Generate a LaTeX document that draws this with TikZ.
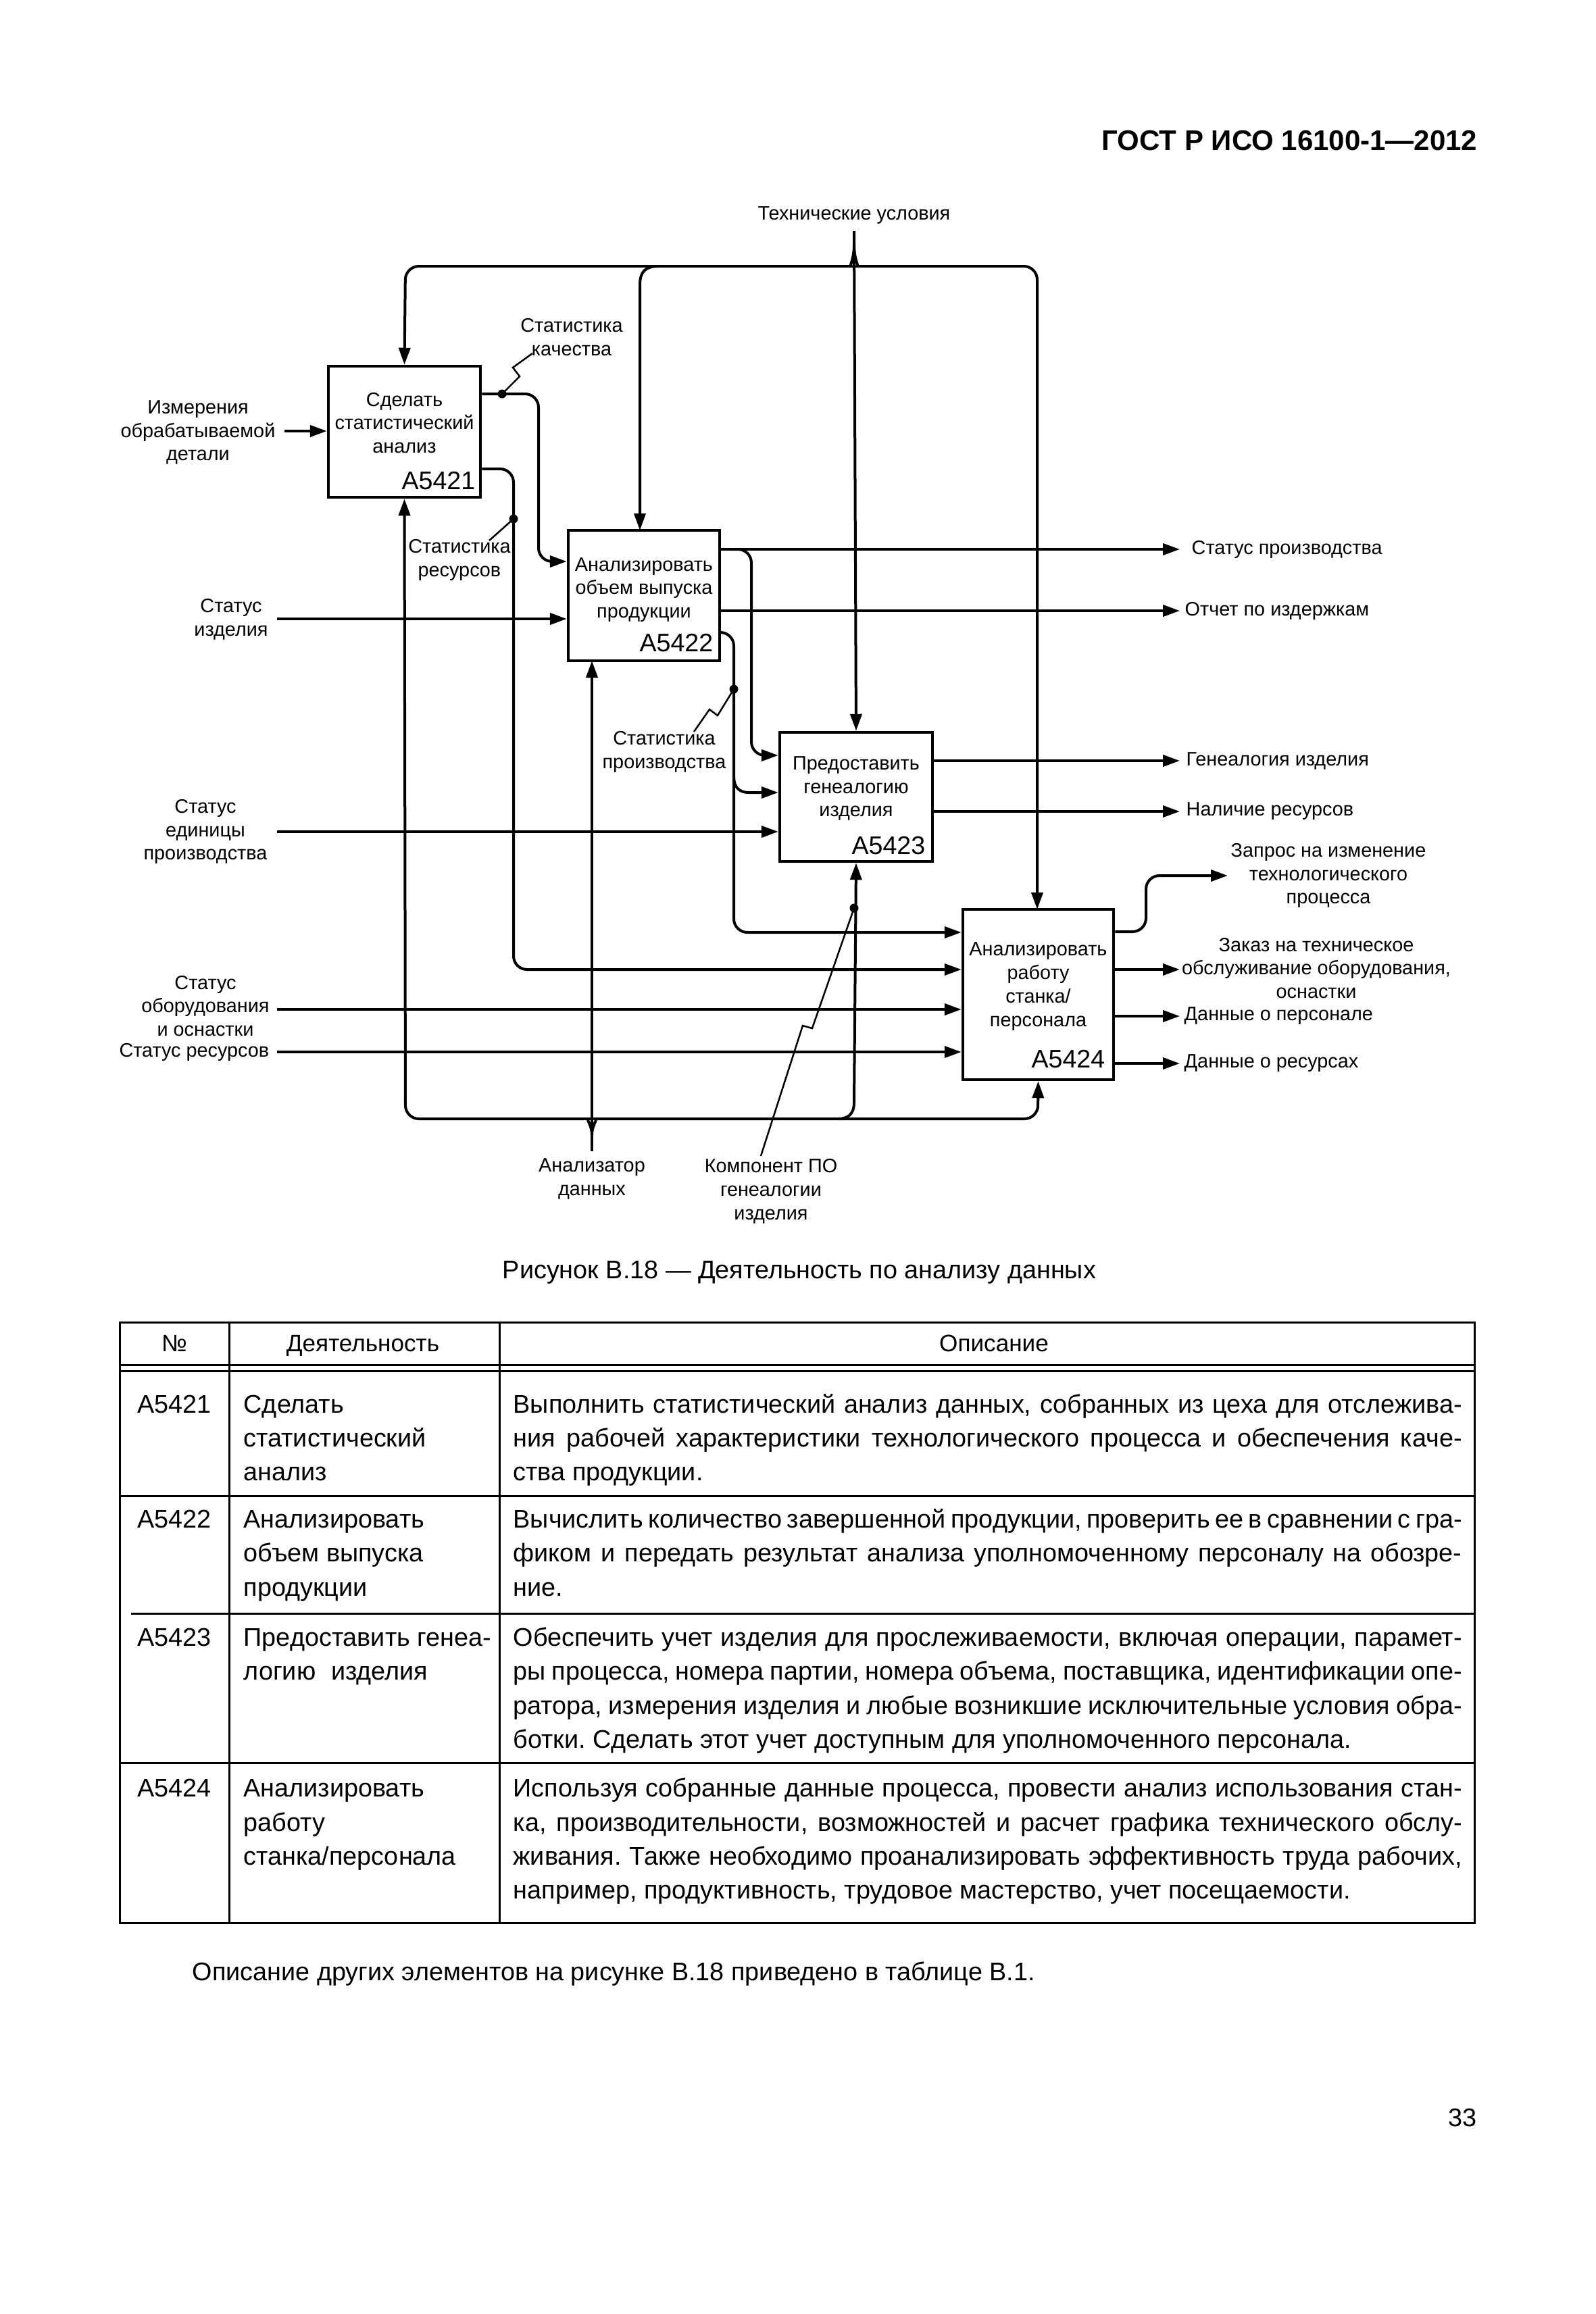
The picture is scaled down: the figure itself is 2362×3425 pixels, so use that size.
\documentclass[tikz,border=0pt]{standalone}
\usepackage{fontspec}
\setmainfont{Liberation Sans}
\usetikzlibrary{arrows.meta}
\frenchspacing
\newlength\descw
\setlength\descw{140.4mm}
\newcommand\jline[1]{\makebox[\descw][s]{#1}}
\begin{document}
\begin{tikzpicture}[x=0.1mm,y=-0.1mm,
  box/.style={draw, line width=0.45mm, inner sep=0},
  con/.style={line width=0.4mm},
  arr/.style={con, -{Triangle[length=2.5mm,width=1.7mm]}},
  sq/.style={line width=0.25mm},
  dotn/.style={circle, fill, inner sep=0, minimum size=1.3mm},
  lbl/.style={font=\fontsize{8.2}{9.9}\selectfont, align=center, inner sep=0},
  idf/.style={font=\fontsize{10.7}{12}\selectfont, inner sep=0},
  tbl/.style={line width=0.3mm},
  body/.style={font=\fontsize{10.75}{12.9}\selectfont, inner sep=0},
  thead/.style={font=\fontsize{10}{12}\selectfont, inner sep=0},
  rc/.style={rounded corners=2mm}
]
\fill[white] (0,0) rectangle (2362,3425);
\useasboundingbox (0,0) rectangle (2362,3425);

% header
\node[font=\fontsize{11.95}{14}\selectfont\bfseries, inner sep=0, anchor=base east] (hdr) at (2187,222) {ГОСТ Р ИСО 16100-1—2012};

% boxes
\node[box, minimum width=22.5mm, minimum height=19.4mm] (b1) at (598.5,639) {};
\node[box, minimum width=22.4mm, minimum height=19.3mm] (b2) at (953,881.5) {};
\node[box, minimum width=22.6mm, minimum height=19.1mm] (b3) at (1267,1179.5) {};
\node[box, minimum width=22.3mm, minimum height=25.2mm] (b4) at (1536.5,1472) {};

\node[lbl] (t1) at (598.5,626) {Сделать\\статистический\\анализ};
\node[lbl] (t2) at (953,873) {Анализировать\\объем выпуска\\продукции};
\node[lbl] (t3) at (1267,1167) {Предоставить\\генеалогию\\изделия};
\node[lbl] (t4) at (1536.5,1460) {Анализировать\\работу\\станка/\\персонала};

\node[idf, anchor=base east] (i1) at (704,724) {A5421};
\node[idf, anchor=base east] (i2) at (1056,964) {A5422};
\node[idf, anchor=base east] (i3) at (1370,1264) {A5423};
\node[idf, anchor=base east] (i4) at (1636,1580) {A5424};

% control: technical conditions
\node[lbl] (tc) at (1264,319) {Технические условия};
\coordinate (ctop) at (1264,342);
\draw[arr] (ctop) -- (b3.north);
\draw[arr, rc] (1264,362) .. controls (1264,386) and (1256,394) .. (1240,394) -- (600,394) -- (b1.north);
\draw[arr, rc] (1264,362) .. controls (1264,386) and (1272,394) .. (1288,394) -- (1535,394) -- (1535,1346);
\draw[arr] (975,394) .. controls (955,394) and (947,402) .. (947,422) -- (947,785);

% mechanism: data analyser
\node[lbl] (ad) at (876,1745) {Анализатор\\данных};
\coordinate (mbot) at (876,1704);
\draw[arr] (mbot) -- (876,978);
\draw[arr, rc] (876,1680) .. controls (876,1664) and (866,1656) .. (852,1656) -- (600,1656) -- (b1.south);
\draw[arr, rc] (876,1680) .. controls (876,1664) and (886,1656) .. (900,1656) -- (1536,1656) -- (b4.south);
\draw[arr] (1240,1656) .. controls (1256,1656) and (1264,1648) .. (1264,1632) -- (b3.south);

% mechanism: genealogy software
\node[dotn] (dk) at (1264,1344) {};
\node[lbl] (kp) at (1141,1763) {Компонент ПО\\генеалогии\\изделия};
\draw[sq] (dk.center) -- (1202,1522) -- (1188,1518) -- (1126,1711);

% inputs
\node[lbl] (in1) at (293,640) {Измерения\\обрабатываемой\\детали};
\draw[arr] (421,638) -- (b1.west |- 0,638);
\node[lbl] (in2) at (342,917) {Статус\\изделия};
\draw[arr] (410,916) -- (b2.west |- 0,916);
\node[lbl] (in3) at (304,1231) {Статус\\единицы\\производства};
\draw[arr] (410,1231) -- (b3.west |- 0,1231);
\node[lbl] (in4) at (304,1489) {Статус\\оборудования\\и оснастки};
\draw[arr] (410,1494) -- (b4.west |- 0,1494);
\node[lbl, anchor=east] (in5) at (399,1557) {Статус ресурсов};
\draw[arr] (410,1557) -- (b4.west |- 0,1557);

% A5421 outputs
\node[dotn] (dq) at (743,583) {};
\draw[arr, rc] (b1.east |- 0,583) -- (797,583) -- (797,831) -- (b2.west |- 0,831);
\node[lbl] (sq1) at (846,499) {Статистика\\качества};
\draw[sq] (dq.center) -- (769,557) -- (759,544) -- (788,523);

\node[dotn] (dr) at (760,768) {};
\draw[arr, rc] (b1.east |- 0,694) -- (760,694) -- (760,1435) -- (b4.west |- 0,1435);
\node[lbl] (sr) at (680,829) {Статистика\\ресурсов};
\draw[sq] (dr.center) -- (724,800);

% A5422 outputs
\draw[arr] (b2.east |- 0,813) -- (1746,813);
\node[lbl, anchor=west] (o1) at (1763,813) {Статус производства};
\draw[arr, rc] (1080,813) -- (1112,813) -- (1112,1118) -- (b3.west |- 0,1118);
\draw[arr] (b2.east |- 0,904) -- (1746,904);
\node[lbl, anchor=west] (o2) at (1753,904) {Отчет по издержкам};

\node[dotn] (dp) at (1086,1020) {};
\draw[arr, rc] (b2.east |- 0,936) -- (1086,936) -- (1086,1380) -- (b4.west |- 0,1380);
\draw[arr] (1086,1150) .. controls (1086,1165) and (1094,1173) .. (1108,1173) -- (b3.west |- 0,1173);
\node[lbl] (sp) at (983,1113) {Статистика\\производства};
\draw[sq] (dp.center) -- (1062,1059) -- (1050,1050) -- (1027,1083);

% A5423 outputs
\draw[arr] (b3.east |- 0,1126) -- (1746,1126);
\node[lbl, anchor=west] (o3) at (1755,1126) {Генеалогия изделия};
\draw[arr] (b3.east |- 0,1201) -- (1746,1201);
\node[lbl, anchor=west] (o4) at (1755,1201) {Наличие ресурсов};

% A5424 outputs
\draw[arr, rc] (b4.east |- 0,1379) -- (1696,1379) -- (1696,1296) -- (1817,1296);
\node[lbl] (o5) at (1966,1296) {Запрос на изменение\\технологического\\процесса};
\draw[arr] (b4.east |- 0,1435) -- (1746,1435);
\node[lbl] (o6) at (1948,1433) {Заказ на техническое\\обслуживание оборудования,\\оснастки};
\draw[arr] (b4.east |- 0,1504) -- (1746,1504);
\node[lbl, anchor=west] (o7) at (1752,1504) {Данные о персонале};
\draw[arr] (b4.east |- 0,1574) -- (1746,1574);
\node[lbl, anchor=west] (o8) at (1752,1574) {Данные о ресурсах};

% caption
\node[body, anchor=base] (cap) at (1183,1892) {Рисунок В.18 — Деятельность по анализу данных};

% table
\draw[tbl] (177,1957) rectangle (2182,2846);
\draw[tbl] (177,2020) -- (2182,2020);
\draw[tbl] (177,2029) -- (2182,2029);
\draw[tbl] (177,2214) -- (2182,2214);
\draw[tbl] (194,2388) -- (2182,2388);
\draw[tbl] (177,2609) -- (2182,2609);
\draw[tbl] (339,1957) -- (339,2846);
\draw[tbl] (739,1957) -- (739,2846);

\node[thead, anchor=base] (h1) at (258,2000) {№};
\node[thead, anchor=base] (h2) at (537,2000) {Деятельность};
\node[thead, anchor=base] (h3) at (1471,2000) {Описание};

% row 1
\node[body, anchor=base west] at (203,2091) {A5421};
\node[body, anchor=base west] at (360,2091) {Сделать};
\node[body, anchor=base west] at (360,2141) {статистический};
\node[body, anchor=base west] at (360,2191) {анализ};
\node[body, anchor=base west] at (759,2091) {\jline{Выполнить статистический анализ данных, собранных из цеха для отслежива-}};
\node[body, anchor=base west] at (759,2141) {\jline{ния рабочей характеристики технологического процесса и обеспечения каче-}};
\node[body, anchor=base west] at (759,2191) {ства продукции.};

% row 2
\node[body, anchor=base west] at (203,2261) {A5422};
\node[body, anchor=base west] at (360,2261) {Анализировать};
\node[body, anchor=base west] at (360,2311) {объем выпуска};
\node[body, anchor=base west] at (360,2362) {продукции};
\node[body, anchor=base west] at (759,2261) {\jline{Вычислить количество завершенной продукции, проверить ее в сравнении с гра-}};
\node[body, anchor=base west] at (759,2311) {\jline{фиком и передать результат анализа уполномоченному персоналу на обозре-}};
\node[body, anchor=base west] at (759,2362) {ние.};

% row 3
\node[body, anchor=base west] at (203,2436) {A5423};
\node[body, anchor=base west] at (360,2436) {Предоставить генеа-};
\node[body, anchor=base west] at (360,2486) {логию\hspace{0.6em}изделия};
\node[body, anchor=base west] at (759,2436) {\jline{Обеспечить учет изделия для прослеживаемости, включая операции, парамет-}};
\node[body, anchor=base west] at (759,2486) {\jline{ры процесса, номера партии, номера объема, поставщика, идентификации опе-}};
\node[body, anchor=base west] at (759,2537) {\jline{ратора, измерения изделия и любые возникшие исключительные условия обра-}};
\node[body, anchor=base west] at (759,2587) {ботки. Сделать этот учет доступным для уполномоченного персонала.};

% row 4
\node[body, anchor=base west] at (203,2659) {A5424};
\node[body, anchor=base west] at (360,2659) {Анализировать};
\node[body, anchor=base west] at (360,2710) {работу};
\node[body, anchor=base west] at (360,2760) {станка/персонала};
\node[body, anchor=base west] at (759,2659) {\jline{Используя собранные данные процесса, провести анализ использования стан-}};
\node[body, anchor=base west] at (759,2710) {\jline{ка, производительности, возможностей и расчет графика технического обслу-}};
\node[body, anchor=base west] at (759,2760) {\jline{живания. Также необходимо проанализировать эффективность труда рабочих,}};
\node[body, anchor=base west] at (759,2810) {например, продуктивность, трудовое мастерство, учет посещаемости.};

% paragraph and page number
\node[body, anchor=base west] (para) at (284,2931) {Описание других элементов на рисунке В.18 приведено в таблице В.1.};
\node[body, anchor=base east] (pg) at (2186,3147) {33};
\end{tikzpicture}
\end{document}
